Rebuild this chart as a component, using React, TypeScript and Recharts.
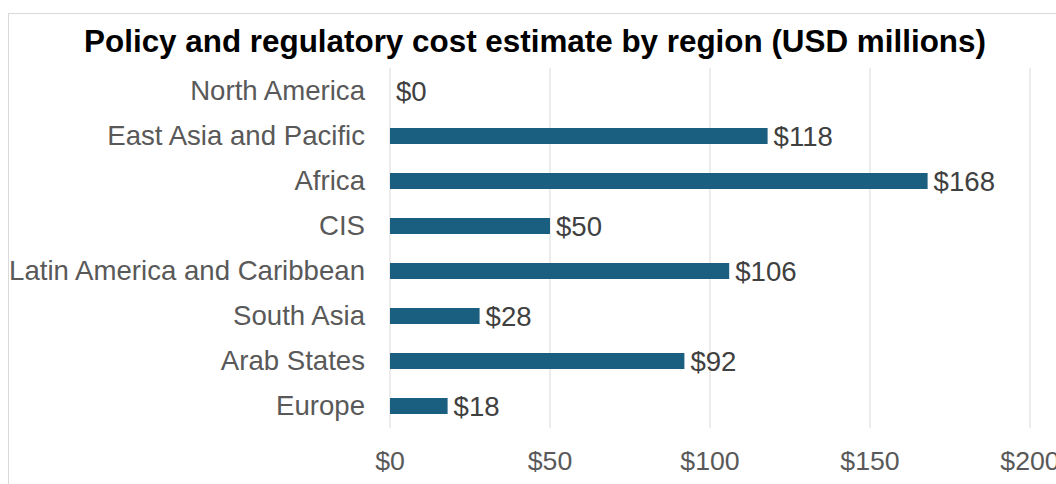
import React from "react";
import { BarChart, Bar, XAxis, YAxis, CartesianGrid, LabelList, Rectangle } from "recharts";

const title = "Policy and regulatory cost estimate by region (USD millions)";
const regions = [
  "North America",
  "East Asia and Pacific",
  "Africa",
  "CIS",
  "Latin America and Caribbean",
  "South Asia",
  "Arab States",
  "Europe",
];
const costs = [0, 118, 168, 50, 106, 28, 92, 18];
const xTicks = [0, 50, 100, 150, 200];

const data = regions.map((region, i) => ({ region, cost: costs[i] }));

const FONT = "'Liberation Sans', Arial, sans-serif";

const BarShape = (props: any) => {
  if (!props.value || props.width < 0.5) return <g />;
  return <Rectangle {...props} />;
};

export default function App() {
  return (
    <div
      style={{
        position: "absolute",
        left: 0,
        top: 0,
        width: 1056,
        height: 484,
        overflow: "hidden",
        background: "#ffffff",
        fontFamily: FONT,
      }}
    >
      <div
        style={{
          position: "absolute",
          left: 8,
          top: 13,
          width: 1200,
          height: 600,
          border: "1px solid #d9d9d9",
          boxSizing: "border-box",
        }}
      />
      <div style={{ position: "absolute", left: 0, top: 0 }}>
        <BarChart
          width={1056}
          height={484}
          data={data}
          layout="vertical"
          margin={{ top: 68, right: 26, bottom: 0, left: 0 }}
          barSize={16}
        >
          <CartesianGrid horizontal={false} vertical={true} stroke="#d9d9d9" />
          <XAxis
            type="number"
            domain={[0, 200]}
            ticks={xTicks}
            tickFormatter={(v: number) => `$${v}`}
            axisLine={false}
            tickLine={false}
            tickSize={6}
            tickMargin={17}
            height={56}
            interval={0}
            tick={{ fill: "#595959", fontSize: 26.7, fontFamily: FONT }}
          />
          <YAxis
            type="category"
            dataKey="region"
            width={390}
            axisLine={false}
            tickLine={false}
            tickSize={6}
            tickMargin={19}
            interval={0}
            tick={{ fill: "#595959", fontSize: 27.6, fontFamily: FONT }}
          />
          <Bar
            dataKey="cost"
            fill="#1a5e80"
            isAnimationActive={false}
            minPointSize={0.01}
            shape={BarShape}
          >
            <LabelList
              dataKey="cost"
              position="right"
              offset={6}
              formatter={(v: any) => `$${v}`}
              style={{ fill: "#404040", fontSize: 27.6, fontFamily: FONT }}
            />
          </Bar>
        </BarChart>
      </div>
      <svg
        width={1056}
        height={484}
        style={{ position: "absolute", left: 0, top: 0, pointerEvents: "none" }}
      >
        <text
          x={535}
          y={52}
          textAnchor="middle"
          fontFamily={FONT}
          fontWeight="bold"
          fontSize={31.4}
          fill="#000000"
        >
          {title}
        </text>
      </svg>
    </div>
  );
}
